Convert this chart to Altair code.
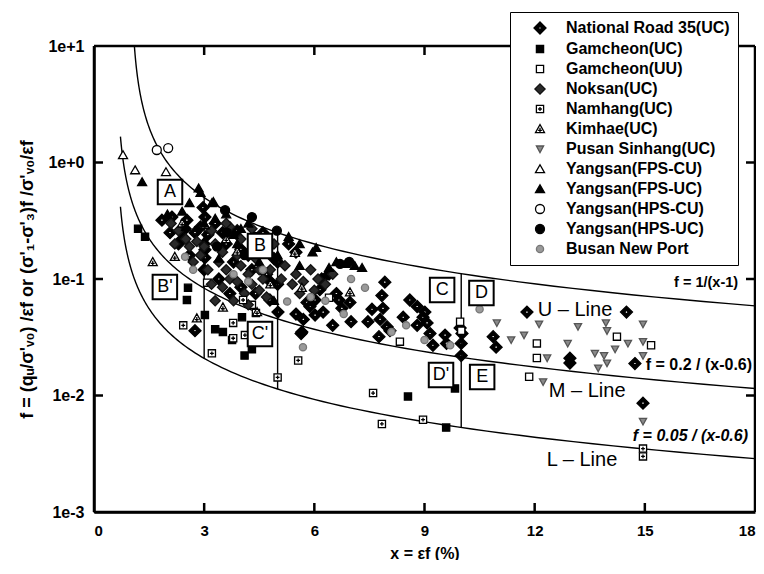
import altair as alt
import pandas as pd
import numpy as np

FONT = "Liberation Sans"

series_names = [
    "National Road 35(UC)", "Gamcheon(UC)", "Gamcheon(UU)", "Noksan(UC)",
    "Namhang(UC)", "Kimhae(UC)", "Pusan Sinhang(UC)", "Yangsan(FPS-CU)",
    "Yangsan(FPS-UC)", "Yangsan(HPS-CU)", "Yangsan(HPS-UC)", "Busan New Port",
]

# ---- data (x = strain %, f) ----
nr_x = [1.85, 2.12, 2.53, 3.02, 2.97, 2.48, 2.75, 3.10, 2.07, 3.02, 3.02, 3.00, 3.00,
        5.01, 5.00, 5.00, 5.64, 2.75, 4.79, 5.88, 6.15, 6.24, 3.50, 4.00, 4.50, 3.80,
        4.30, 4.70, 2.30, 2.60, 7.92, 7.84, 7.57, 7.87, 7.79, 7.98, 7.76, 8.42, 8.60,
        8.80, 9.01, 8.96, 8.80, 9.07, 9.15, 9.56, 9.60, 9.97, 10.02, 9.23, 7.00, 6.97,
        6.67, 6.75, 5.66, 5.80, 6.02, 6.02, 7.46, 8.06, 10.87, 10.95, 11.79, 14.50,
        12.96, 12.96, 14.73, 14.95, 10.00, 10.00, 6.20, 6.40, 5.50, 6.60, 5.70, 6.50,
        3.30, 3.60, 3.90, 4.20, 4.60, 4.90, 3.40, 4.00, 4.40, 2.90, 2.40, 5.30, 5.50,
        3.70, 4.80]
nr_f = [0.32, 0.34, 0.32, 0.34, 0.41, 0.27, 0.25, 0.24, 0.25, 0.178, 0.152, 0.12, 0.20,
        0.052, 0.09, 0.14, 0.034, 0.036, 0.066, 0.058, 0.081, 0.052, 0.25, 0.18, 0.20, 0.14,
        0.12, 0.11, 0.20, 0.16, 0.094, 0.072, 0.055, 0.056, 0.045, 0.039, 0.032, 0.047, 0.066,
        0.058, 0.052, 0.047, 0.040, 0.042, 0.034, 0.033, 0.028, 0.038, 0.034, 0.027, 0.043, 0.063,
        0.066, 0.056, 0.035, 0.063, 0.066, 0.049, 0.043, 0.036, 0.032, 0.026, 0.052, 0.052,
        0.0209, 0.019, 0.0188, 0.0086, 0.028, 0.022, 0.10, 0.11, 0.05, 0.075, 0.045, 0.04,
        0.30, 0.20, 0.26, 0.16, 0.25, 0.15, 0.10, 0.085, 0.075, 0.28, 0.22, 0.20, 0.17,
        0.075, 0.095]

gu_x = [1.20, 1.39, 2.56, 2.53, 3.02, 3.51, 4.03, 3.76, 4.30, 3.30, 8.55, 9.83, 9.59, 4.10]
gu_f = [0.27, 0.23, 0.084, 0.066, 0.049, 0.035, 0.047, 0.030, 0.025, 0.037, 0.0098, 0.0115, 0.0053, 0.022]

guu_x = [3.08, 6.40, 8.33, 9.97, 12.06, 12.06, 11.85, 14.24, 15.17, 4.30, 10.00]
guu_f = [0.093, 0.069, 0.029, 0.043, 0.028, 0.021, 0.0145, 0.032, 0.027, 0.060, 0.036]

nok_x = [2.1, 2.3, 2.5, 2.2, 2.6, 2.8, 3.3, 3.5, 3.4, 3.6, 3.7, 3.5, 3.9, 4.0, 4.2, 4.3,
         4.5, 4.6, 4.8, 4.1, 3.8, 3.3, 4.4, 4.7, 5.2, 5.5, 5.7, 5.9, 6.1, 5.6, 6.0, 6.3,
         6.5, 5.4, 3.1, 2.9, 3.2, 4.0, 3.7, 4.6,
         3.0, 3.6, 4.3, 4.9, 3.9, 4.5, 5.1, 2.7, 3.2, 4.2]
nok_f = [0.30, 0.26, 0.22, 0.20, 0.19, 0.21, 0.20, 0.17, 0.14, 0.12, 0.10, 0.085, 0.095, 0.13,
         0.11, 0.09, 0.08, 0.10, 0.12, 0.075, 0.065, 0.065, 0.15, 0.07, 0.13, 0.11, 0.095, 0.12,
         0.10, 0.075, 0.08, 0.09, 0.11, 0.09, 0.12, 0.16, 0.26, 0.22, 0.28, 0.17,
         0.19, 0.30, 0.27, 0.20, 0.16, 0.12, 0.10, 0.14, 0.09, 0.06]

nam_x = [2.43, 3.79, 3.79, 4.11, 3.21, 4.06, 4.41, 5.56, 5.00, 7.60, 7.84, 8.96, 14.95, 14.95]
nam_f = [0.040, 0.042, 0.031, 0.033, 0.023, 0.066, 0.051, 0.020, 0.0143, 0.0105, 0.0057, 0.0062, 0.0035, 0.0030]

kim_x = [2.20, 2.80, 3.51, 4.44, 3.90, 5.47, 3.02, 6.97, 5.66, 2.40, 3.60, 4.80, 1.60]
kim_f = [0.155, 0.046, 0.057, 0.052, 0.172, 0.168, 0.29, 0.077, 0.084, 0.30, 0.22, 0.09, 0.14]

pus_x = [10.97, 12.12, 13.18, 13.94, 13.97, 14.95, 11.36, 11.71, 12.90, 12.34, 13.64, 13.89,
         14.19, 14.54, 14.95, 13.73, 13.97, 12.23, 14.95, 14.95]
pus_f = [0.042, 0.041, 0.039, 0.042, 0.036, 0.041, 0.030, 0.033, 0.028, 0.021, 0.023, 0.022,
         0.025, 0.028, 0.029, 0.0172, 0.019, 0.0131, 0.022, 0.006]

fcu_x = [0.79, 1.12, 1.96, 3.21]
fcu_f = [1.16, 0.86, 0.83, 0.45]

fuc_x = [1.31, 2.85, 2.90, 3.25, 2.40, 2.00, 3.60, 4.20, 3.90, 5.30, 6.05, 6.40, 5.95, 6.60,
         7.10, 6.85, 7.30, 2.50, 3.40, 4.50, 5.00, 5.60, 4.90, 2.60, 3.00,
         3.30, 4.00, 4.70, 5.60, 3.80]
fuc_f = [0.68, 0.60, 0.55, 0.46, 0.38, 0.36, 0.36, 0.30, 0.20, 0.23, 0.185, 0.125, 0.17, 0.14,
         0.13, 0.135, 0.125, 0.28, 0.15, 0.14, 0.16, 0.13, 0.065, 0.45, 0.30,
         0.33, 0.27, 0.22, 0.20, 0.24]

hcu_x = [1.71, 2.02]
hcu_f = [1.28, 1.33]

huc_x = [3.57, 4.30, 4.98, 3.62, 3.35, 4.10, 6.70, 6.95, 4.40]
huc_f = [0.39, 0.34, 0.26, 0.25, 0.19, 0.16, 0.135, 0.14, 0.23]

bnp_x = [2.48, 2.70, 5.26, 5.69, 7.38, 3.80, 4.20, 5.90, 6.30, 7.00, 8.10, 9.00, 9.70, 10.50,
         6.80, 4.60, 8.50]
bnp_f = [0.155, 0.12, 0.064, 0.026, 0.084, 0.11, 0.095, 0.07, 0.065, 0.10, 0.035, 0.03, 0.027,
         0.055, 0.05, 0.12, 0.04]

all_x = [nr_x, gu_x, guu_x, nok_x, nam_x, kim_x, pus_x, fcu_x, fuc_x, hcu_x, huc_x, bnp_x]
all_f = [nr_f, gu_f, guu_f, nok_f, nam_f, kim_f, pus_f, fcu_f, fuc_f, hcu_f, huc_f, bnp_f]

rows = []
for name, xs, fs in zip(series_names, all_x, all_f):
    for xv, fv in zip(xs, fs):
        rows.append({"series": name, "x": xv, "f": fv})
df = pd.DataFrame(rows)

# marker styles
circle = "M-0.75,0A0.75,0.75 0 1,0 0.75,0A0.75,0.75 0 1,0 -0.75,0Z"
small_circle = "M-0.6,0A0.6,0.6 0 1,0 0.6,0A0.6,0.6 0 1,0 -0.6,0Z"
shapes = [
    "M0,-1L1,0L0,1L-1,0Z M0,-0.3L-0.3,0L0,0.3L0.3,0Z",
    "M-0.6,-0.6H0.6V0.6H-0.6Z",
    "M-0.6,-0.6H0.6V0.6H-0.6Z",
    "M0,-0.85L0.85,0L0,0.85L-0.85,0Z",
    "M-0.6,-0.6H0.6V0.6H-0.6Z M-0.32,0H0.32 M0,-0.32V0.32",
    "M0,-0.75L0.75,0.6H-0.75Z M-0.32,0.22H0.32 M0,-0.2V0.5",
    "M-0.6,-0.5H0.6L0,0.6Z",
    "M0,-0.7L0.75,0.6H-0.75Z",
    "M0,-0.7L0.75,0.6H-0.75Z",
    circle,
    circle,
    small_circle,
]
fills = ["black", "black", "white", "#2a2a2a", "white", "white", "#8a8a8a",
         "white", "black", "white", "black", "#9a9a9a"]
strokes = ["black", "black", "black", "#111111", "black", "black", "#555555",
           "black", "black", "black", "black", "#777777"]

# curves (from the formulas printed on the chart)
xs1 = 1 + np.geomspace(0.1, 17, 120)
xs2 = 0.6 + np.geomspace(0.12, 17.4, 120)
curve_rows = []
for xv in xs1:
    curve_rows.append({"curve": "U", "x": xv, "f": 1 / (xv - 1)})
for xv in xs2:
    curve_rows.append({"curve": "M", "x": xv, "f": 0.2 / (xv - 0.6)})
    curve_rows.append({"curve": "L", "x": xv, "f": 0.05 / (xv - 0.6)})
curves_df = pd.DataFrame(curve_rows)

divider_x = [3, 5, 10]
div_df = pd.DataFrame({"x": divider_x})

box_labels = ["A", "B", "B'", "C", "C'", "D", "D'", "E"]
box_x = [2.07, 4.52, 1.93, 9.48, 4.52, 10.55, 9.45, 10.57]
box_f = [0.558, 0.192, 0.0853, 0.0805, 0.0337, 0.0759, 0.0150, 0.0144]
box_df = pd.DataFrame({"label": box_labels, "x": box_x, "f": box_f})

line_labels = ["U – Line", "M – Line", "L – Line"]
line_x = [13.1, 13.43, 13.29]
line_f = [0.0542, 0.0109, 0.0028]
line_df = pd.DataFrame({"label": line_labels, "x": line_x, "f": line_f})

eq_labels = ["f = 1/(x-1)", "f = 0.2 / (x-0.6)"]
eq_x = [17.54, 17.92]
eq_f = [0.0925, 0.0183]
eq_size = [14.5, 16]
eq_df = pd.DataFrame({"label": eq_labels, "x": eq_x, "f": eq_f, "size": eq_size})
eq_it_labels = ["f = 0.05 / (x-0.6)"]
eq_it_x = [17.81]
eq_it_f = [0.00449]
eq_it_df = pd.DataFrame({"label": eq_it_labels, "x": eq_it_x, "f": eq_it_f})

x_ticks = [0, 3, 6, 9, 12, 15, 18]
y_ticks = [0.001, 0.01, 0.1, 1, 10]
inner_x_ticks = [3, 6, 9, 12, 15]
inner_y_ticks = [0.01, 0.1, 1]
X_MIN, X_MAX = 0, 18
Y_MIN, Y_MAX = 0.001, 10

W, H = 661, 466
xscale = alt.Scale(domain=[X_MIN, X_MAX], nice=False, zero=False)
yscale = alt.Scale(type="log", domain=[Y_MIN, Y_MAX], nice=False)

# frame and inward ticks as segments in data space
tick_px = 9
dx = tick_px / W * (X_MAX - X_MIN)
fy = 10 ** (tick_px / (H / 4))
seg_x, seg_x2, seg_y, seg_y2 = [], [], [], []
for a, b, c, d in [(X_MIN, X_MAX, Y_MIN, Y_MIN), (X_MIN, X_MAX, Y_MAX, Y_MAX),
                   (X_MIN, X_MIN, Y_MIN, Y_MAX), (X_MAX, X_MAX, Y_MIN, Y_MAX)]:
    seg_x.append(a); seg_x2.append(b); seg_y.append(c); seg_y2.append(d)
for t in inner_x_ticks:
    seg_x += [t, t]; seg_x2 += [t, t]
    seg_y += [Y_MIN, Y_MAX / fy]; seg_y2 += [Y_MIN * fy, Y_MAX]
for t in inner_y_ticks:
    seg_x += [X_MIN, X_MAX - dx]; seg_x2 += [X_MIN + dx, X_MAX]
    seg_y += [t, t]; seg_y2 += [t, t]
seg_df = pd.DataFrame({"sx": seg_x, "sx2": seg_x2, "sy": seg_y, "sy2": seg_y2})

xaxis = alt.Axis(values=x_ticks, ticks=False, domain=True, domainColor="black",
                 domainWidth=2.5, grid=False,
                 labelFont=FONT, labelFontSize=15, labelFontWeight="bold",
                 labelPadding=11, labelColor="black",
                 titleFont=FONT, titleFontSize=16, titleFontWeight="bold",
                 titlePadding=7, titleColor="black")
yaxis = alt.Axis(values=y_ticks, ticks=False, domain=True, domainColor="black",
                 domainWidth=2.5, grid=False,
                 labelExpr="'1e' + (datum.value >= 1 ? '+' : '') + round(log(datum.value)/LN10)",
                 labelFont=FONT, labelFontSize=16, labelFontWeight="bold",
                 labelPadding=10, labelColor="black",
                 titleFont=FONT, titleFontSize=18, titleFontWeight="bold",
                 titlePadding=11, titleColor="black")

X = alt.X("x:Q", scale=xscale, axis=xaxis, title="x = εf (%)")
Y = alt.Y("f:Q", scale=yscale, axis=yaxis,
          title="f = (qᵤ/σ'ᵥ₀) /εf or (σ'₁-σ'₃)f /σ'ᵥ₀/εf")

leg = alt.Legend(title=None, orient="none", legendX=416, legendY=-34,
                 strokeColor="black", fillColor="white", padding=8,
                 symbolOffset=14, labelOffset=18, symbolSize=144, symbolStrokeWidth=1.3,
                 labelFont=FONT, labelFontSize=16, labelFontWeight="bold",
                 labelColor="black", rowPadding=4, labelLimit=400)

frame = alt.Chart(seg_df).mark_rule(color="black", strokeWidth=2.5).encode(
    x=alt.X("sx:Q", scale=xscale), x2="sx2:Q",
    y=alt.Y("sy:Q", scale=yscale), y2="sy2:Q")

points = alt.Chart(df).mark_point(opacity=1, size=144, strokeWidth=1.3, filled=False).encode(
    x=X, y=Y,
    shape=alt.Shape("series:N", scale=alt.Scale(domain=series_names, range=shapes), legend=leg),
    fill=alt.Fill("series:N", scale=alt.Scale(domain=series_names, range=fills), legend=leg),
    stroke=alt.Stroke("series:N", scale=alt.Scale(domain=series_names, range=strokes), legend=leg),
)

curves = alt.Chart(curves_df).mark_line(color="black", strokeWidth=1.4, clip=True).encode(
    x=alt.X("x:Q", scale=xscale), y=alt.Y("f:Q", scale=yscale), detail="curve:N",
    order="x:Q")

dividers = alt.Chart(div_df).transform_calculate(
    top="1/(datum.x-1)", bottom="0.05/(datum.x-0.6)"
).mark_rule(color="black", strokeWidth=1.4).encode(
    x=alt.X("x:Q", scale=xscale), y=alt.Y("top:Q", scale=yscale), y2="bottom:Q")

boxes = alt.Chart(box_df).mark_point(shape="square", size=600, fill="white", filled=True,
                                     stroke="black", strokeWidth=2, opacity=1).encode(
    x=alt.X("x:Q", scale=xscale), y=alt.Y("f:Q", scale=yscale))
box_text = alt.Chart(box_df).mark_text(font=FONT, fontSize=18, color="black").encode(
    x=alt.X("x:Q", scale=xscale), y=alt.Y("f:Q", scale=yscale), text="label:N")

line_text = alt.Chart(line_df).mark_text(font=FONT, fontSize=20, color="black").encode(
    x=alt.X("x:Q", scale=xscale), y=alt.Y("f:Q", scale=yscale), text="label:N")

eq_text = alt.Chart(eq_df).mark_text(font=FONT, fontWeight="bold",
                                     align="right", color="black").encode(
    x=alt.X("x:Q", scale=xscale), y=alt.Y("f:Q", scale=yscale), text="label:N",
    size=alt.Size("size:Q", scale=None, legend=None))
eq_it_text = alt.Chart(eq_it_df).mark_text(font=FONT, fontSize=16, fontWeight="bold",
                                           fontStyle="italic", align="right",
                                           color="black").encode(
    x=alt.X("x:Q", scale=xscale), y=alt.Y("f:Q", scale=yscale), text="label:N")

chart = alt.layer(
    frame, curves, dividers, points, boxes, box_text, line_text, eq_text, eq_it_text
).properties(
    width=W, height=H,
    background="white",
    autosize=alt.AutoSizeParams(type="none"),
    padding={"left": 86, "top": 38, "right": 1, "bottom": 48},
).configure_view(
    stroke=None
)

chart.save("out.html", embed_options={"renderer": "svg", "actions": False})
